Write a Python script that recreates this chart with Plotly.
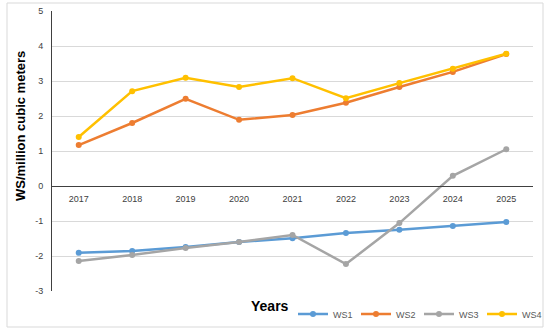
import plotly.graph_objects as go

years = ["2017", "2018", "2019", "2020", "2021", "2022", "2023", "2024", "2025"]
ws1 = [-1.91, -1.86, -1.74, -1.60, -1.49, -1.34, -1.25, -1.14, -1.03]
ws2 = [1.17, 1.80, 2.49, 1.89, 2.03, 2.38, 2.83, 3.26, 3.77]
ws3 = [-2.14, -1.97, -1.77, -1.60, -1.40, -2.23, -1.06, 0.29, 1.05]
ws4 = [1.40, 2.71, 3.09, 2.83, 3.08, 2.51, 2.94, 3.35, 3.78]
names = ["WS1", "WS2", "WS3", "WS4"]
colors = ["#5B9BD5", "#ED7D31", "#A5A5A5", "#FFC000"]
y_ticks = [-3, -2, -1, 0, 1, 2, 3, 4, 5]

fig = go.Figure()
for name, vals, c in zip(names, [ws1, ws2, ws3, ws4], colors):
    fig.add_trace(go.Scatter(
        x=years, y=vals, name=name, mode="lines+markers",
        line=dict(color=c, width=2.5), marker=dict(color=c, size=6),
    ))

L, R, T, B = 52, 17, 11, 45
W, H = 550, 336
pw, ph = W - L - R, H - T - B

fig.update_layout(
    width=W, height=H,
    margin=dict(l=L, r=R, t=T, b=B, autoexpand=False),
    plot_bgcolor="rgba(0,0,0,0)", paper_bgcolor="white",
    font=dict(family="Liberation Sans, Arial", color="#595959"),
    xaxis=dict(
        type="category", range=[-0.5, 8.5], anchor="free", position=3 / 8,
        showgrid=False, showline=True, linecolor="#404040", linewidth=1,
        ticks="", tickfont=dict(size=9, color="#404040"), ticklabelstandoff=4,
        automargin=False,
    ),
    yaxis=dict(
        range=[-3, 5], tickvals=y_ticks, ticktext=[str(v) for v in y_ticks],
        showgrid=True, gridcolor="#D9D9D9", gridwidth=1,
        zeroline=False, showline=True, linecolor="#404040", linewidth=1,
        ticks="", tickfont=dict(size=9, color="#404040"), ticklabelstandoff=6,
        automargin=False,
    ),
    legend=dict(
        orientation="h", xref="container", yref="container",
        x=545 / W, xanchor="right", y=1 - 314 / H, yanchor="middle",
        font=dict(size=9, color="#595959"), bgcolor="rgba(0,0,0,0)",
        tracegroupgap=0, entrywidth=18, entrywidthmode="pixels",
    ),
    showlegend=True,
)

fig.add_annotation(
    text="<b>WS/million cubic meters</b>", textangle=-90, xref="paper", yref="paper",
    x=(20 - L) / pw, y=(T + ph - 126) / ph, showarrow=False,
    font=dict(size=13, color="#000000"), xanchor="center", yanchor="middle",
)
fig.add_annotation(
    text="<b>Years</b>", xref="paper", yref="paper",
    x=(270 - L) / pw, y=(T + ph - 306) / ph, showarrow=False,
    font=dict(size=14, color="#000000"), xanchor="center", yanchor="middle",
)
fig.add_shape(
    type="rect", xref="paper", yref="paper",
    x0=(7 - L) / pw, x1=(543 - L) / pw,
    y0=(T + ph - 327) / ph, y1=(T + ph - 3) / ph,
    line=dict(color="#D9D9D9", width=1), fillcolor="rgba(0,0,0,0)", layer="below",
)

fig.write_html(
    "out.html",
    config={"displayModeBar": False},
    post_script="document.body.style.margin='0';document.body.style.overflow='hidden';",
)
